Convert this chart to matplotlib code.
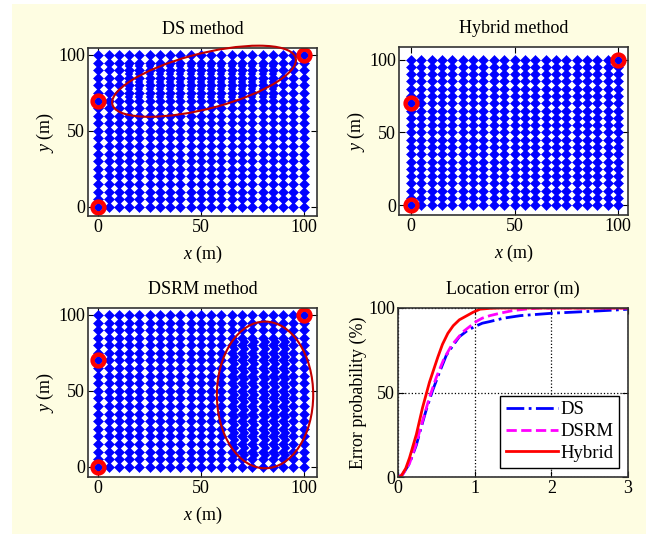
import numpy as np
import matplotlib
matplotlib.use('Agg')
import matplotlib.pyplot as plt
from matplotlib.patches import Ellipse, Rectangle

plt.rcParams['font.family'] = ['Liberation Serif', 'DejaVu Serif']
plt.rcParams['mathtext.fontset'] = 'custom'
plt.rcParams['mathtext.it'] = 'Liberation Serif:italic'
plt.rcParams['mathtext.rm'] = 'Liberation Serif'
plt.rcParams['font.size'] = 12

# ---- data ----
grid_pos = [0, 5, 10, 15, 20, 25, 30, 35, 40, 45, 50, 55, 60, 65, 70, 75, 80, 85, 90, 95, 100]
anchor_x = [0, 0, 100]
anchor_y = [0, 70, 100]

# extra (biased) estimates inside the marked regions
ds_extra_cols = [15, 20, 25, 30, 35, 40, 45, 50, 55, 60, 65, 70, 75, 80, 85]
ds_extra_rows = [72.5, 77.5, 82.5, 87.5, 92.5]
dsrm_extra_cols = [66.5, 71.5, 76.5, 81.5, 86.5, 91.5]
dsrm_extra_rows = [7.5, 12.5, 17.5, 22.5, 27.5, 32.5, 37.5, 42.5, 47.5, 52.5, 57.5, 62.5, 67.5, 72.5, 77.5, 82.5]

# CDF of location error
ds_err = [0, 0.06, 0.15, 0.24, 0.3, 0.37, 0.45, 0.55, 0.63, 0.72, 0.8, 0.9, 1.0, 1.1, 1.2, 1.38, 1.6, 2.04, 2.5, 2.91, 3.0]
ds_cdf = [0, 1.5, 8, 19, 29, 40, 51, 63, 72, 78, 83, 86.5, 89, 91, 92, 94, 95.5, 97, 98, 99, 99.3]
dsrm_err = [0, 0.06, 0.15, 0.24, 0.3, 0.41, 0.5, 0.6, 0.7, 0.85, 1.02, 1.1, 1.2, 1.34, 1.5, 1.7, 1.86, 3.0]
dsrm_cdf = [0, 1.5, 8, 20, 30, 47, 59, 70, 78, 86, 92, 94, 95.5, 97, 98.5, 99.5, 100, 100]
hyb_err = [0, 0.04, 0.1, 0.15, 0.24, 0.32, 0.41, 0.52, 0.58, 0.65, 0.72, 0.8, 0.9, 0.98, 1.07, 1.2, 1.33, 3.0]
hyb_cdf = [0, 0.5, 5, 11.3, 25.3, 41, 56, 71, 78.5, 85, 89.5, 93, 95.5, 97.5, 99.3, 99.8, 100, 100]

BLUE = '#0000FF'
RED = '#FF0000'
DARKRED = '#C00000'

fig = plt.figure(figsize=(6.46, 5.34), dpi=100)
fig.patches.append(Rectangle((12 / 646, 0), 1, 1 - 4 / 534, transform=fig.transFigure,
                             facecolor='#FEFDE2', edgecolor='none', zorder=-10))

W, H = 646, 534


def px_axes(l, t, r, b):
    return fig.add_axes([l / W, 1 - b / H, (r - l) / W, (b - t) / H])


def style(ax):
    ax.tick_params(direction='in', top=True, right=True, length=4, width=0.8,
                   labelsize=13, pad=2)
    for s in ax.spines.values():
        s.set_color('#333333')
        s.set_linewidth(1.2)


gx, gy = np.meshgrid(grid_pos, grid_pos)


def grid_panel(ax, title, extra_x=None, extra_y=None):
    ax.plot(gx.ravel(), gy.ravel(), 'D', color=BLUE, ms=5.0, mew=0.4, ls='none')
    if extra_x is not None:
        ex, ey = np.meshgrid(extra_x, extra_y)
        ax.plot(ex.ravel(), ey.ravel(), 'D', color=BLUE, ms=3.6, mew=0.3, ls='none')
    ax.plot(anchor_x, anchor_y, 'o', mfc='none', mec=RED, ms=8.5, mew=3.2, ls='none')
    ax.set_xticks([0, 50, 100])
    ax.set_yticks([0, 50, 100])
    ax.set_xlabel('$x$ (m)', fontsize=13, labelpad=6)
    ax.set_ylabel('$y$ (m)', fontsize=13, labelpad=2)
    ax.set_title(title, fontsize=13, pad=10)
    style(ax)


ax1 = px_axes(88, 48, 317, 216)
grid_panel(ax1, 'DS method', ds_extra_cols, ds_extra_rows)
ax1.set_xlim(-5, 106.5)
ax1.set_ylim(-6.1, 104.6)
ax1.add_patch(Ellipse((51.5, 82.7), 94.5, 35.7, angle=20.3, fill=False,
                      edgecolor=DARKRED, lw=1.5, zorder=5, clip_on=False))

ax2 = px_axes(399, 47, 628, 215)
grid_panel(ax2, 'Hybrid method')
ax2.set_xlim(-5.8, 104.8)
ax2.set_ylim(-6.7, 108.6)

ax3 = px_axes(88, 308, 317, 477)
grid_panel(ax3, 'DSRM method', dsrm_extra_cols, dsrm_extra_rows)
ax3.set_xlim(-5, 106.5)
ax3.set_ylim(-6.8, 104.6)
ax3.add_patch(Ellipse((81.2, 47.3), 46.9, 96.7, fill=False,
                      edgecolor=DARKRED, lw=1.5, zorder=5, clip_on=False))

ax4 = px_axes(398, 308, 628, 477)
ax4.plot(ds_err, ds_cdf, '-.', color=BLUE, lw=2, label='DS')
ax4.plot(dsrm_err, dsrm_cdf, '--', color='#FF00FF', lw=2, label='DSRM')
ax4.plot(hyb_err, hyb_cdf, '-', color=RED, lw=2, label='Hybrid')
ax4.set_xlim(0, 3)
ax4.set_ylim(0, 100)
ax4.set_xticks([0, 1, 2, 3])
ax4.set_yticks([0, 50, 100])
ax4.grid(True, ls=':', color='black', lw=0.9)
ax4.set_ylabel('Error probability (%)', fontsize=13, labelpad=1)
ax4.set_title('Location error (m)', fontsize=13, pad=10)
style(ax4)
leg = ax4.legend(loc='lower right', fontsize=13.5, fancybox=False, framealpha=1,
                 edgecolor='black', handlelength=2.8, handletextpad=0.1,
                 borderpad=0.3, labelspacing=0.25, borderaxespad=0.5)
leg.get_frame().set_linewidth(1.0)

fig.savefig('out.png', dpi=100, facecolor='white')
